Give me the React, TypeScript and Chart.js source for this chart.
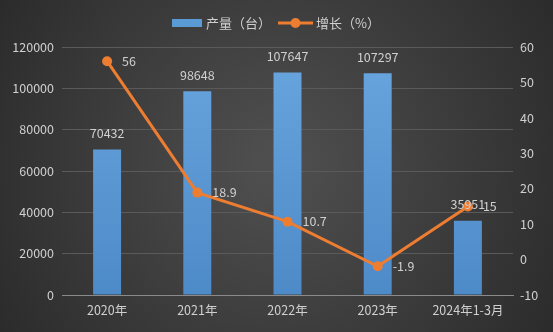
import React, { useEffect, useRef } from "react";
import { Chart, registerables } from "chart.js";

Chart.register(...registerables);

const categories = ["2020年", "2021年", "2022年", "2023年", "2024年1-3月"];
const production = [70432, 98648, 107647, 107297, 35951];
const growth = [56, 18.9, 10.7, -1.9, 15];
const barLabel = "产量（台）";
const lineLabel = "增长（%）";

const FONT = "'Noto Sans CJK SC', 'DejaVu Sans', sans-serif";
const TEXT = "#d0d0d0";

const bgPlugin = {
  id: "bg",
  beforeDraw(chart: any) {
    const { ctx, width, height } = chart;
    ctx.save();
    const g = ctx.createRadialGradient(width / 2, height / 2, 20, width / 2, height / 2, Math.max(width, height) * 0.65);
    g.addColorStop(0, "#4e4e4e");
    g.addColorStop(1, "#272727");
    ctx.fillStyle = g;
    ctx.fillRect(0, 0, width, height);
    ctx.restore();
  },
};

const legendPlugin = {
  id: "customLegend",
  afterDraw(chart: any) {
    const { ctx } = chart;
    ctx.save();
    const y = 23;
    ctx.fillStyle = "#5b9bd5";
    ctx.fillRect(172, y - 4, 30, 8);
    ctx.font = `13px ${FONT}`;
    ctx.fillStyle = TEXT;
    ctx.textBaseline = "middle";
    ctx.textAlign = "left";
    ctx.fillText(barLabel, 206, y);
    ctx.strokeStyle = "#ed7d31";
    ctx.lineWidth = 3;
    ctx.beginPath();
    ctx.moveTo(278, y);
    ctx.lineTo(313, y);
    ctx.stroke();
    ctx.fillStyle = "#ed7d31";
    ctx.beginPath();
    ctx.arc(295.5, y, 5, 0, Math.PI * 2);
    ctx.fill();
    ctx.fillStyle = TEXT;
    ctx.fillText(lineLabel, 316, y);
    ctx.restore();
  },
};

const labelsPlugin = {
  id: "dataLabels",
  afterDatasetsDraw(chart: any) {
    const { ctx } = chart;
    ctx.save();
    ctx.font = `12.5px ${FONT}`;
    ctx.fillStyle = TEXT;
    ctx.textBaseline = "middle";
    const barMeta = chart.getDatasetMeta(0);
    barMeta.data.forEach((el: any, i: number) => {
      ctx.textAlign = "center";
      ctx.fillText(String(production[i]), el.x, el.y - 16);
    });
    const lineMeta = chart.getDatasetMeta(1);
    lineMeta.data.forEach((el: any, i: number) => {
      ctx.textAlign = "left";
      ctx.fillText(String(growth[i]), el.x + 15, el.y);
    });
    ctx.restore();
  },
};

export default function App() {
  const ref = useRef<HTMLCanvasElement>(null);
  useEffect(() => {
    document.body.style.margin = "0";
    const canvas = ref.current!;
    const ctx = canvas.getContext("2d")!;
    const barGrad = ctx.createLinearGradient(0, 40, 0, 295);
    barGrad.addColorStop(0, "#6aa6de");
    barGrad.addColorStop(1, "#4d8ac8");
    const chart = new Chart(canvas, {
      type: "bar",
      data: {
        labels: categories,
        datasets: [
          {
            type: "bar",
            label: barLabel,
            data: production,
            backgroundColor: barGrad,
            yAxisID: "y",
            categoryPercentage: 1,
            barPercentage: 0.31,
            order: 2,
          },
          {
            type: "line",
            label: lineLabel,
            data: growth,
            borderColor: "#ed7d31",
            backgroundColor: "#ed7d31",
            borderWidth: 3,
            pointRadius: 5,
            pointBackgroundColor: "#ed7d31",
            pointBorderWidth: 0,
            yAxisID: "y1",
            order: 1,
            tension: 0,
          } as any,
        ],
      },
      options: {
        responsive: false,
        animation: false,
        layout: { padding: { top: 47, left: 0, right: 0, bottom: 0 } },
        plugins: { legend: { display: false }, tooltip: { enabled: false } },
        scales: {
          x: {
            grid: { display: false, drawTicks: false },
            border: { display: true, color: "#8a8a8a", width: 1 },
            ticks: { color: TEXT, font: { size: 12.5, family: FONT }, padding: 8, maxRotation: 0 },
            afterFit(scale: any) { scale.height = 37; },
          },
          y: {
            position: "left",
            min: 0,
            max: 120000,
            ticks: {
              stepSize: 20000,
              color: TEXT,
              font: { size: 12.5, family: FONT },
              padding: 8,
              callback: (v: any) => String(v),
            },
            grid: { color: "#5a5a5a", drawTicks: false },
            border: { display: false },
            afterFit(scale: any) { scale.width = 62; },
          },
          y1: {
            position: "right",
            min: -10,
            max: 60,
            ticks: {
              stepSize: 10,
              color: TEXT,
              font: { size: 12.5, family: FONT },
              padding: 7,
              callback: (v: any) => String(v),
            },
            grid: { display: false, drawTicks: false },
            border: { display: false },
            afterFit(scale: any) { scale.width = 40; },
          },
        },
      },
      plugins: [bgPlugin, legendPlugin, labelsPlugin],
    });
    return () => chart.destroy();
  }, []);
  return <canvas ref={ref} width={553} height={332} style={{ display: "block" }} />;
}
